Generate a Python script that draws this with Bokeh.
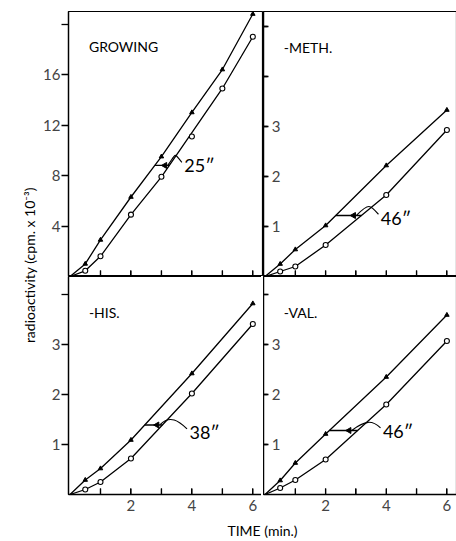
import numpy as np
from bokeh.plotting import figure
from bokeh.models import GridBox, FixedTicker, Range1d
from bokeh.embed import file_html
from bokeh.resources import INLINE
from bokeh.core.properties import value

FONT = "Lato"

# ---- data (time in min, radioactivity in cpm x 10^-3) ----
time_grow = [0, 0.5, 1, 2, 3, 4, 5, 6]
grow_upper = [0, 1.0, 2.9, 6.3, 9.5, 13.0, 16.4, 20.8]
grow_lower = [0, 0.45, 1.6, 4.9, 7.9, 11.1, 14.9, 19.0]
grow_lower_on_curve = [1, 1, 1, 1, 1, 0, 1, 1]

time_std = [0, 0.5, 1, 2, 4, 6]
meth_upper = [0, 0.25, 0.54, 1.02, 2.22, 3.33]
meth_lower = [0, 0.10, 0.20, 0.63, 1.63, 2.93]
his_upper = [0, 0.29, 0.52, 1.09, 2.42, 3.82]
his_lower = [0, 0.10, 0.25, 0.72, 2.02, 3.41]
val_upper = [0, 0.28, 0.63, 1.21, 2.35, 3.59]
val_lower = [0, 0.13, 0.29, 0.70, 1.80, 3.07]

panel_titles = ["GROWING", "-METH.", "-HIS.", "-VAL."]
lag_labels = ["25\u2033", "46\u2033", "38\u2033", "46\u2033"]
lag_levels = [8.8, 1.22, 1.39, 1.28]          # y level of the lag bracket
lag_text_pos = [(3.75, 8.8), (3.82, 1.18), (3.92, 1.26), (3.89, 1.28)]

grow_yticks = [4, 8, 12, 16]
grow_yminor = [20]
small_yticks = [1, 2, 3]
x_major = [2, 4, 6]
x_minor = [1, 3, 5]
x_all = [1, 2, 3, 4, 5, 6]

X_START, X_END = -0.05, 6.35


def make_panel(row, col, ymax, t, up, lo, lo_mask, ymajor, yminor, title, title_y,
               lag_label, lag_y, text_xy):
    left = col == 0
    top = row == 0
    p = figure(frame_width=195 if left else 194, frame_height=265 if top else 218,
               x_range=Range1d(X_START, X_END), y_range=Range1d(0, ymax),
               output_backend="svg", toolbar_location=None,
               min_border_left=26 if left else 0, min_border_right=0,
               min_border_top=11 if top else 0, min_border_bottom=0 if top else 22)
    p.grid.visible = False
    p.outline_line_color = "black"
    p.outline_line_width = 1.2

    # x axis
    xa = p.xaxis[0]
    if top:
        xa.ticker = FixedTicker(ticks=[], minor_ticks=x_all)
    else:
        xa.ticker = FixedTicker(ticks=x_major, minor_ticks=x_minor)
    xa.major_label_text_font = FONT
    xa.major_label_text_font_size = "15px"
    xa.major_label_standoff = 5
    xa.major_tick_in = 6
    xa.major_tick_out = 0
    xa.minor_tick_in = 6
    xa.minor_tick_out = 0
    xa.axis_line_width = 1.3
    # inward tick marks drawn as short rays from the axis, at the tick positions
    p.ray(x=x_all, y=[0] * len(x_all), length=6, length_units="screen",
          angle=np.pi / 2, line_color="black", line_width=1.4)

    # y axis
    ya = p.yaxis[0]
    ya.ticker = FixedTicker(ticks=ymajor, minor_ticks=yminor)
    ya.major_label_text_font = FONT
    ya.major_label_text_font_size = "15px"
    ya.axis_line_width = 1.3
    ya.major_tick_line_width = 1.3
    ya.minor_tick_line_width = 1.3
    if left:
        ya.major_tick_out = 7
        ya.major_tick_in = 0
        ya.minor_tick_out = 7
        ya.minor_tick_in = 0
        ya.major_label_standoff = 1
    else:
        ya.major_tick_out = 0
        ya.major_tick_in = 4
        ya.minor_tick_out = 0
        ya.minor_tick_in = 4
        ya.major_label_standoff = -17
        yt = list(ymajor) + list(yminor)
        p.ray(x=[X_START] * len(yt), y=yt, length=5, length_units="screen", angle=0,
              line_color="black", line_width=1.4)

    # curves
    lt = [a for a, m in zip(t, lo_mask) if m]
    lv = [b for b, m in zip(lo, lo_mask) if m]
    p.line(t, up, line_color="black", line_width=1.3)
    p.line(lt, lv, line_color="black", line_width=1.3)
    p.scatter(t[1:], up[1:], marker="triangle", size=4.5, fill_color="black", line_color="black")
    p.scatter(t[1:], lo[1:], marker="circle", size=5, fill_color="white", line_color="black",
              line_width=1.1)

    # lag bracket between the two curves
    xu = float(np.interp(lag_y, up, t))
    xl = float(np.interp(lag_y, lv, lt))
    p.segment(x0=[xu], y0=[lag_y], x1=[xl], y1=[lag_y], line_color="black", line_width=1.3)
    xa_head = xl - 0.3 * (xl - xu)
    p.scatter([xa_head], [lag_y], marker="triangle", angle=np.pi / 2, size=6,
              fill_color="black", line_color="black")
    tx, ty = text_xy
    dy = 0.03 * ymax
    p.bezier(x0=[tx - 0.08], y0=[ty + 0.4 * dy], x1=[xa_head + 0.1], y1=[lag_y + 0.05 * dy],
             cx0=[tx - 0.35], cy0=[ty + 1.6 * dy], cx1=[xl + 0.25], cy1=[lag_y + 1.6 * dy],
             line_color="black", line_width=1.2)

    p.text([tx], [ty], text=[lag_label], text_font=value(FONT), text_font_size="18px",
           text_baseline="middle", text_align="left", text_color="black")
    p.text([0.62], [title_y], text=[title], text_font=value(FONT), text_font_size="14px",
           text_baseline="middle", text_align="left", text_color="black")
    return p


p_grow = make_panel(0, 0, 21.0, time_grow, grow_upper, grow_lower, grow_lower_on_curve,
                    grow_yticks, grow_yminor, panel_titles[0], 18.2,
                    lag_labels[0], lag_levels[0], lag_text_pos[0])
p_meth = make_panel(0, 1, 5.3, time_std, meth_upper, meth_lower, [1] * len(time_std),
                    small_yticks, [4, 5], panel_titles[1], 4.58,
                    lag_labels[1], lag_levels[1], lag_text_pos[1])
p_his = make_panel(1, 0, 4.36, time_std, his_upper, his_lower, [1] * len(time_std),
                   small_yticks, [4], panel_titles[2], 3.64,
                   lag_labels[2], lag_levels[2], lag_text_pos[2])
p_val = make_panel(1, 1, 4.36, time_std, val_upper, val_lower, [1] * len(time_std),
                   small_yticks, [4], panel_titles[3], 3.64,
                   lag_labels[3], lag_levels[3], lag_text_pos[3])

# global axis titles
ylab_h = 276 + 240
p_ylab = figure(width=40, height=ylab_h, x_range=Range1d(0, 40), y_range=Range1d(0, ylab_h),
                output_backend="svg", toolbar_location=None, min_border=0)
p_ylab.axis.visible = False
p_ylab.grid.visible = False
p_ylab.outline_line_color = None
p_ylab.text([29], [ylab_h - 271], text=["radioactivity (cpm. x 10\u207b\u00b3)"], angle=np.pi / 2,
            text_font=value(FONT), text_font_size="14px", text_align="center",
            text_baseline="middle", text_color="black")

p_xlab = figure(width=455, height=24, x_range=Range1d(0, 455), y_range=Range1d(0, 24),
                output_backend="svg", toolbar_location=None, min_border=0)
p_xlab.axis.visible = False
p_xlab.grid.visible = False
p_xlab.outline_line_color = None
p_xlab.text([262], [10], text=["TIME (min.)"], text_font=value(FONT), text_font_size="14px",
            text_align="center", text_baseline="middle", text_color="black")

grid = GridBox(children=[
    (p_ylab, 0, 0, 2, 1),
    (p_grow, 0, 1), (p_meth, 0, 2),
    (p_his, 1, 1), (p_val, 1, 2),
    (p_xlab, 2, 0, 1, 3),
], spacing=0)

open("out.html", "w").write(file_html(grid, INLINE))
